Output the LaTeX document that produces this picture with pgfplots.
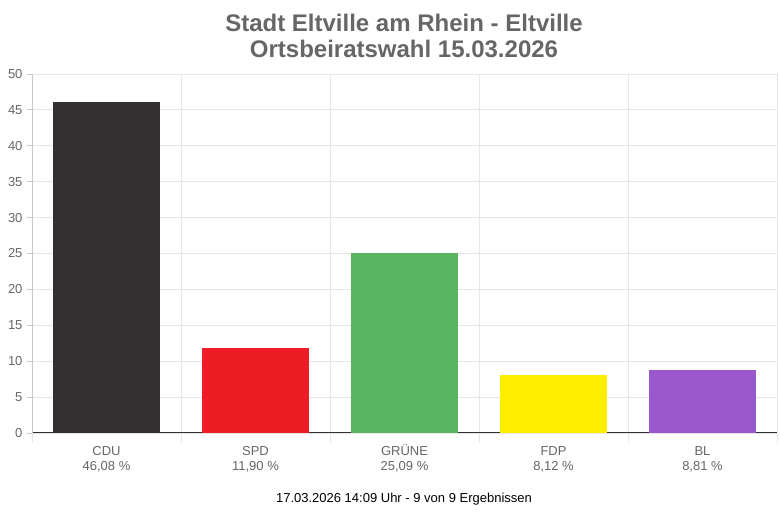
\documentclass[border=0pt]{standalone}
\usepackage{fontspec}
\setmainfont{Liberation Sans}
\usepackage{pgfplots}
\pgfplotsset{compat=1.18}
\definecolor{cdu}{HTML}{323031}
\definecolor{spd}{HTML}{EE1C25}
\definecolor{gruene}{HTML}{57B45F}
\definecolor{fdp}{HTML}{FFED00}
\definecolor{bl}{HTML}{9B57CC}
\definecolor{titlegray}{HTML}{666666}
\definecolor{gridgray}{HTML}{E6E6E6}
\definecolor{axisgray}{HTML}{C8C8C8}
\begin{document}
\begin{tikzpicture}[x=1pt,y=1pt]
\useasboundingbox (0,0) rectangle (780,513);
\begin{axis}[
  at={(32pt,80pt)}, anchor=south west,
  scale only axis, width=745pt, height=359pt,
  xmin=-0.5, xmax=4.5, ymin=0, ymax=50,
  ytick={0,5,...,50},
  xtick={0,1,2,3,4},
  xticklabels={{\vphantom{Ü}CDU\\46,08 \%},{\vphantom{Ü}SPD\\11,90 \%},{\vphantom{Ü}GRÜNE\\25,09 \%},{\vphantom{Ü}FDP\\8,12 \%},{\vphantom{Ü}BL\\8,81 \%}},
  minor xtick={-0.5,0.5,...,4.5},
  xminorgrids, ymajorgrids,
  major x tick style={draw=none},
  minor x tick style={draw=gridgray, line width=0.8pt},
  minor tick length=10pt,
  major tick length=5pt,
  tick align=outside,
  y tick style={draw=axisgray, line width=0.8pt},
  grid style={draw=gridgray, line width=0.8pt},
  minor grid style={draw=gridgray, line width=0.8pt},
  axis x line*=bottom, axis y line*=left,
  x axis line style={draw=cdu, line width=1pt, -},
  y axis line style={draw=axisgray, line width=0.8pt, -},
  xticklabel style={align=center, font=\fontsize{13}{15}\selectfont, text=titlegray, yshift=-3pt},
  yticklabel style={font=\fontsize{13}{15}\selectfont, text=titlegray, xshift=-1pt},
  /pgf/number format/assume math mode=true,
  ybar, bar width=0.72, bar shift=0pt,
  clip=false,
]
\addplot[fill=cdu, draw=none] coordinates {(0,46.08)};
\addplot[fill=spd, draw=none] coordinates {(1,11.90)};
\addplot[fill=gruene, draw=none] coordinates {(2,25.09)};
\addplot[fill=fdp, draw=none] coordinates {(3,8.12)};
\addplot[fill=bl, draw=none] coordinates {(4,8.81)};
\end{axis}
\node[anchor=base, font=\fontsize{24}{28}\selectfont\bfseries, text=titlegray] at (404,481) {Stadt Eltville am Rhein - Eltville};
\node[anchor=base, font=\fontsize{24}{28}\selectfont\bfseries, text=titlegray] at (404,455) {Ortsbeiratswahl 15.03.2026};
\node[anchor=base, font=\fontsize{13}{15}\selectfont, text=black] at (404,10) {17.03.2026 14:09 Uhr - 9 von 9 Ergebnissen};
\end{tikzpicture}
\end{document}
